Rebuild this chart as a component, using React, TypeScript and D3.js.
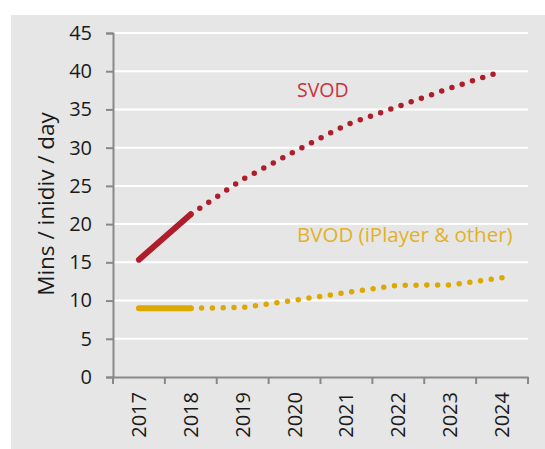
import React, { useRef, useEffect } from "react";
import * as d3 from "d3";

const years = ["2017", "2018", "2019", "2020", "2021", "2022", "2023", "2024"];
const svodValues = [15.35, 21.3, 25.85, 29.5, 33.0, 35.4, 37.8, 40.0];
const bvodValues = [9.0, 9.0, 9.1, 10.05, 11.05, 12.0, 12.05, 13.0];
const yTicks = [0, 5, 10, 15, 20, 25, 30, 35, 40, 45];
// index of last actual (solid) value, the rest are forecast (dotted)
const actualEnd = 1;

const RED = "#AD1D2A";
const GOLD = "#DDA800";
const FONT = "'Open Sans', sans-serif";

const App = () => {
  const ref = useRef<SVGSVGElement>(null);

  useEffect(() => {
    const svg = d3.select(ref.current);
    svg.selectAll("*").remove();

    const W = 545;
    const H = 449;
    svg.attr("width", W).attr("height", H);

    svg
      .append("rect")
      .attr("x", 11)
      .attr("y", 15)
      .attr("width", W - 11)
      .attr("height", H - 15)
      .attr("fill", "#E6E6E6");

    const x = d3.scaleBand().domain(years).range([113, 528]).padding(0);
    const y = d3.scaleLinear().domain([0, 45]).range([377, 33]);
    const cx = (d: string) => (x(d) as number) + x.bandwidth() / 2;

    // gridlines
    svg
      .append("g")
      .selectAll("line")
      .data(yTicks.filter((t) => t > 0))
      .enter()
      .append("line")
      .attr("x1", 113)
      .attr("x2", 528)
      .attr("y1", (d) => y(d))
      .attr("y2", (d) => y(d))
      .attr("stroke", "#fff")
      .attr("stroke-width", 2);

    // y axis
    const yAxis = svg
      .append("g")
      .attr("transform", "translate(113,0)")
      .call(d3.axisLeft(y).tickValues(yTicks).tickSize(7).tickPadding(14));
    yAxis.select(".domain").attr("stroke", "#888").attr("stroke-width", 2);
    yAxis.selectAll(".tick line").attr("stroke", "#888").attr("stroke-width", 2);
    yAxis
      .selectAll("text")
      .attr("font-family", FONT)
      .attr("font-size", 20)
      .attr("fill", "#1a1a1a");

    // x axis
    const xAxis = svg
      .append("g")
      .attr("transform", "translate(0,377)")
      .call(d3.axisBottom(x).tickSize(0).tickSizeOuter(0));
    xAxis.select(".domain").attr("stroke", "#888").attr("stroke-width", 2);
    xAxis
      .selectAll(".tick text")
      .attr("font-family", FONT)
      .attr("font-size", 20)
      .attr("fill", "#1a1a1a")
      .attr("text-anchor", "end")
      .attr("transform", "rotate(-90)")
      .attr("x", -15)
      .attr("y", 0)
      .attr("dy", "0.35em");
    // category boundary ticks
    svg
      .append("g")
      .selectAll("line")
      .data([...years.map((d) => x(d) as number), 528])
      .enter()
      .append("line")
      .attr("x1", (d) => d)
      .attr("x2", (d) => d)
      .attr("y1", 377)
      .attr("y2", 384)
      .attr("stroke", "#888")
      .attr("stroke-width", 2);

    // y axis title
    svg
      .append("text")
      .attr("transform", `translate(54,204) rotate(-90)`)
      .attr("text-anchor", "middle")
      .attr("font-family", FONT)
      .attr("font-size", 22.5)
      .attr("fill", "#1a1a1a")
      .text("Mins / inidiv / day");

    const line = d3
      .line<number>()
      .x((_, i) => cx(years[i]))
      .y((d) => y(d));

    const drawSeries = (values: number[], color: string) => {
      const actual = values.slice(0, actualEnd + 1);
      const forecast = values.map((v, i) => (i >= actualEnd ? v : NaN));
      svg
        .append("path")
        .attr("d", line.defined((d) => !isNaN(d))(forecast))
        .attr("fill", "none")
        .attr("stroke", color)
        .attr("stroke-width", 5.5)
        .attr("stroke-linecap", "round")
        .attr("stroke-dasharray", "0 10.8")
        .attr("stroke-dashoffset", -10.8);
      svg
        .append("path")
        .attr("d", line.defined(() => true)(actual))
        .attr("fill", "none")
        .attr("stroke", color)
        .attr("stroke-width", 6)
        .attr("stroke-linecap", "round");
    };

    drawSeries(svodValues, RED);
    drawSeries(bvodValues, GOLD);

    svg
      .append("text")
      .attr("x", 297)
      .attr("y", 97)
      .attr("font-family", FONT)
      .attr("font-size", 19.5)
      .attr("fill", "#C9333F")
      .text("SVOD");

    svg
      .append("text")
      .attr("x", 297)
      .attr("y", 241.5)
      .attr("font-family", FONT)
      .attr("font-size", 20.5)
      .attr("fill", "#E2B127")
      .text("BVOD (iPlayer & other)");
  }, []);

  return (
    <svg
      ref={ref}
      style={{ position: "absolute", left: 0, top: 0, display: "block" }}
    />
  );
};

export default App;
